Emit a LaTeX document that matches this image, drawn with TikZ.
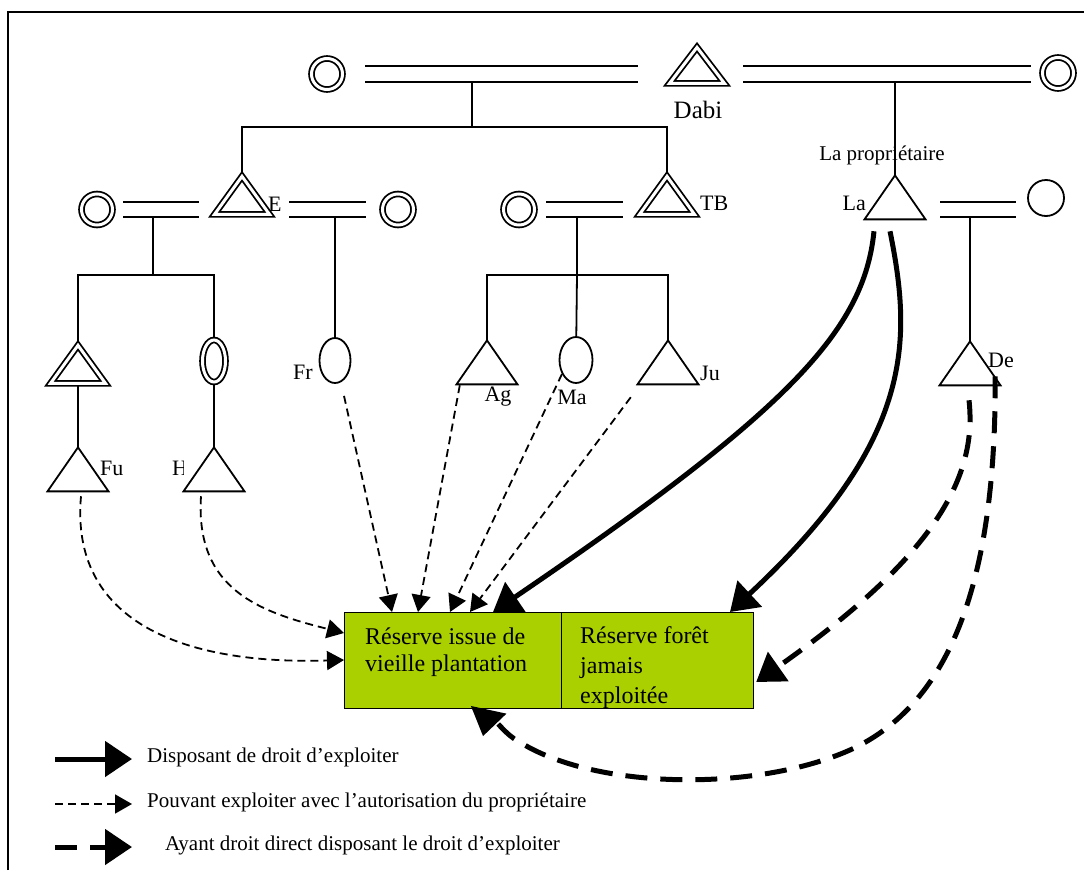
\documentclass[tikz,border=0pt]{standalone}
\usepackage{fontspec}
\setmainfont{Liberation Serif}
\usetikzlibrary{arrows.meta,shapes,positioning,shapes.geometric,calc,backgrounds}
\definecolor{vert}{RGB}{170,208,0}

\begin{document}
\begin{tikzpicture}[x=1pt,y=-1pt,
	trait/.style={line width=1.8pt},
	homme/.style={trait,draw,fill=white,isosceles triangle,isosceles triangle stretches,shape border rotate=90,inner sep=0pt,minimum width=61pt,minimum height=44pt,anchor=apex},
	hommed/.style={homme,double,double distance=3pt,minimum width=55pt,minimum height=38pt},
	femme/.style={trait,draw,fill=white,ellipse,inner sep=0pt,minimum width=31pt,minimum height=45pt},
	femmed/.style={femme,double,double distance=3pt,minimum width=23pt,minimum height=42pt},
	epouse/.style={trait,draw,fill=white,circle,inner sep=0pt,double,double distance=3pt,minimum size=31pt},
	mariage/.style={trait,double,double distance=13.5pt},
	nom/.style={font=\fontsize{22}{24}\selectfont,inner sep=0pt},
	legende/.style={font=\fontsize{21}{24}\selectfont,inner sep=0pt,anchor=west},
	autorise/.style={trait,dash pattern=on 8pt off 5pt,-{Triangle[length=17pt,width=19pt]}},
	droit/.style={line width=5pt,-{Triangle[length=27pt,width=35pt]}},
	direct/.style={line width=5pt,dash pattern=on 22pt off 13pt,-{Triangle[length=27pt,width=35pt]}}]
	\useasboundingbox (0,0) rectangle (1084,870);
	\draw[line width=2pt] (8,870) -- (8,12) -- (1084,12);
	
	% premiere generation
	\node[epouse] (e1) at (327,74) {};
	\node[hommed,minimum width=55pt,minimum height=36pt] (dabi) at (697,45) {};
	\node[epouse] (e2) at (1058,73) {};
	\node[font=\fontsize{25}{28}\selectfont,inner sep=0pt] (ndabi) at (698,110) {Dabi};
	\draw[mariage] (365,74) -- (638,74);
	\draw[mariage] (743,74) -- (1031,74);
	
	% deuxieme generation
	\node[epouse] (e3) at (97,209.5) {};
	\node[hommed] (b) at (242,174) {};
	\node[epouse] (e4) at (398,209.5) {};
	\node[epouse] (e5) at (519,209.5) {};
	\node[hommed] (tb) at (667,174) {};
	\node[homme] (la) at (895,173) {};
	\node[femme,minimum width=36pt,minimum height=36pt] (e6) at (1046,198) {};
	\draw[mariage] (123,209.5) -- (199,209.5);
	\draw[mariage] (289,209.5) -- (366,209.5);
	\draw[mariage] (546,209.5) -- (623,209.5);
	\draw[mariage] (940,209.5) -- (1016,209.5);
	\begin{scope}
		\clip (255,185) rectangle (280,225);
		\node[nom,anchor=west] (nb) at (268,204) {E};
	\end{scope}
	\node[nom,anchor=west] (ntb) at (700,203) {TB};
	\node[nom,font=\fontsize{21}{24}\selectfont] (prop) at (882,155) {La propriétaire};
	\node[nom,anchor=east] (nla) at (866,203) {La};
	
	% troisieme generation
	\node[hommed] (g1) at (78,343) {};
	\node[femmed] (g2) at (214,361) {};
	\node[femme] (fr) at (335,360.5) {};
	\node[homme] (ag) at (487,338) {};
	\node[femme,minimum width=33pt,minimum height=46pt] (ma) at (576,360) {};
	\node[homme] (ju) at (668,338) {};
	\node[homme] (de) at (970,339) {};
	\node[nom,anchor=east] (nfr) at (313,372) {Fr};
	\node[nom] (nag) at (498,397) {Ag};
	\node[nom] (nma) at (572,397) {Ma};
	\node[nom,anchor=west] (nju) at (700,373) {Ju};
	\node[nom,anchor=west] (nde) at (988,360) {De};
	
	% quatrieme generation
	\begin{scope}
		\clip (160,450) rectangle (183,485);
		\node[nom,anchor=west] (nh) at (172,468) {H};
	\end{scope}
	\node[homme] (fu) at (78,445) {};
	\node[homme] (h) at (214,445) {};
	\node[nom,anchor=west] (nfu) at (100,468) {Fu};
	
	% filiations
	\begin{scope}[on background layer]
		\coordinate (f1) at (472,80);
		\coordinate (f2) at (153,216);
		\coordinate (f3) at (577,216);
		\draw[trait] (f1) -- ++(0,47) coordinate (j1);
		\draw[trait] (b.center) |- (j1) -| (tb.center);
		\draw[trait] (f2) -- ++(0,59) coordinate (j2);
		\draw[trait] (g1.center) |- (j2) -| (g2.center);
		\draw[trait] (f3) -- ++(0,59) coordinate (j3);
		\draw[trait] (ag.center) |- (j3) -| (ju.center);
		\draw[trait] (j3) -- (ma.center);
		\draw[trait] (335,216) -- (fr.center);
		\draw[trait] (895,80) -- (la.center);
		\draw[trait] (970,216) -- (de.center);
		\draw[trait] (g1.center) -- (fu.center);
		\draw[trait] (g2.center) -- (h.center);
	\end{scope}
	
	% reserves
	\node[draw,line width=1.2pt,fill=vert,minimum width=217pt,minimum height=96pt,inner sep=0pt,anchor=north west] (resL) at (344,612) {};
	\node[draw,line width=1.2pt,fill=vert,minimum width=192pt,minimum height=96pt,inner sep=0pt,anchor=north west] (resR) at (561,612) {};
	\node[font=\fontsize{24}{27}\selectfont,align=left,anchor=west,inner sep=0pt] (tresL) at (365,652) {Réserve issue de\\vieille plantation};
	\node[font=\fontsize{24}{30}\selectfont,align=left,anchor=west,inner sep=0pt] (tresR) at (580,668) {Réserve forêt\\jamais\\exploitée};
	
	% droits
	\draw[autorise] ($(fu.lower side)+(3,4)$) .. controls (70,620) and (180,665) .. ($(resL.north west)+(0,48)$);
	\draw[autorise] ($(h.lower side)+(-13,4)$) .. controls (195,590) and (260,612) .. ($(resL.north west)+(0,21)$);
	\draw[autorise] ($(fr.south)+(9,12)$) -- ($(resL.north west)+(48,0)$);
	\draw[autorise] ($(ag.left corner)+(5,0)$) -- ($(resL.north west)+(74,0)$);
	\draw[autorise] (ma.225) -- ($(resL.north west)+(106,0)$);
	\draw[autorise] ($(ju.left corner)+(-5,12)$) -- ($(resL.north west)+(126,0)$);
	\draw[droit] ($(la.lower side)+(-21,11)$) .. controls (864,330) and (790,410) .. ($(resL.north west)+(149,0)$);
	\draw[droit] ($(la.lower side)+(-5,11)$) .. controls (912,340) and (915,440) .. ($(resR.north west)+(169,0)$);
	\draw[direct] ($(de.lower side)+(-1,14)$) .. controls (978,480) and (930,560) .. ($(resR.north east)+(2,70)$);
	\draw[direct] ($(de.right corner)+(-7,-10)$) .. controls (996,560) and (960,700) .. (850,750) .. controls (760,790) and (610,790) .. (530,748) .. controls (510,737) .. (488,713) -- ($(resL.south west)+(139,27)$);
	
	% legende
	\node[legende] (l1) at (147,757) {Disposant de droit d’exploiter};
	\node[legende] (l2) at (147,802) {Pouvant exploiter avec l’autorisation du propriétaire};
	\node[legende] (l3) at (165,845) {Ayant droit direct disposant le droit d’exploiter};
	\draw[droit] ([xshift=-92pt,yshift=-2pt]l1.west) -- ([xshift=-15pt,yshift=-2pt]l1.west);
	\draw[autorise] ([xshift=-92pt,yshift=-2pt]l2.west) -- ([xshift=-15pt,yshift=-2pt]l2.west);
	\draw[direct] ([xshift=-110pt,yshift=-2pt]l3.west) -- ([xshift=-33pt,yshift=-2pt]l3.west);
\end{tikzpicture}
\end{document}
